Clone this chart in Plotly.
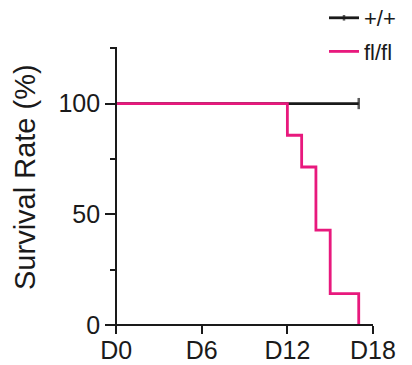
import plotly.graph_objects as go

days_wt = [0, 17]
surv_wt = [100, 100]
days_ko = [0, 12, 13, 14, 15, 17]
surv_ko = [100, 85.7, 71.4, 42.9, 14.3, 0]
x_ticks = [0, 6, 12, 18]
x_labels = ["D0", "D6", "D12", "D18"]
y_ticks = [0, 50, 100]

BLACK = "#1a1a1a"
PINK = "#e8197d"
FONT = "Liberation Sans, Arial, sans-serif"

fig = go.Figure()
fig.add_trace(go.Scatter(
    x=days_wt, y=surv_wt, name="+/+", mode="lines+markers", line_shape="hv",
    line=dict(color=BLACK, width=2.8),
    marker=dict(symbol="line-ns", size=[0, 8], color=BLACK,
                line=dict(color=BLACK, width=2.5)),
    legendgroup="a",
))
fig.add_trace(go.Scatter(
    x=days_ko, y=surv_ko, name="fl/fl", mode="lines", line_shape="hv",
    line=dict(color=PINK, width=2.8),
    legendgroup="b",
))

xr = [-0.5, 18]
yr = [-3, 125.5]
L, R, T, B = 109, 39, 47, 33
W, H = 412, 365
pw, ph = W - L - R, H - T - B


def px_x(p):
    return (p - L) / pw


def px_y(p):
    return (H - B - p) / ph


fig.update_layout(
    width=W, height=H,
    margin=dict(l=L, r=R, t=T, b=B, autoexpand=False),
    paper_bgcolor="white", plot_bgcolor="white",
    font=dict(family=FONT, color=BLACK),
    showlegend=True,
    legend=dict(x=px_x(324), y=px_y(-3), xanchor="left", yanchor="top",
                font=dict(size=22, color=BLACK), tracegroupgap=2,
                itemwidth=30,
                bgcolor="rgba(0,0,0,0)"),
    xaxis=dict(range=xr, tickvals=x_ticks, ticktext=x_labels,
               showgrid=False, zeroline=False, showline=True, linecolor=BLACK,
               linewidth=2, ticks="outside", ticklen=8, tickwidth=2,
               tickcolor=BLACK, tickfont=dict(size=25, color=BLACK),
               ticklabelstandoff=-5,
               automargin=False,
               anchor="free", position=(0 - yr[0]) / (yr[1] - yr[0])),
    yaxis=dict(range=yr, tickvals=y_ticks, showgrid=False, zeroline=False,
               showline=True, linecolor=BLACK, linewidth=2, ticks="outside",
               ticklen=10, tickwidth=2, tickcolor=BLACK,
               tickfont=dict(size=25, color=BLACK),
               minor=dict(dtick=25, tick0=0, ticks="outside", ticklen=5,
                          tickwidth=2, tickcolor=BLACK),
               automargin=False,
               anchor="free", position=(0 - xr[0]) / (xr[1] - xr[0])),
    annotations=[dict(text="Survival Rate (%)", textangle=-90,
                      xref="paper", yref="paper", x=px_x(25), y=px_y(177),
                      xanchor="center", yanchor="middle", showarrow=False,
                      font=dict(size=29, color=BLACK))],
)
fig.write_html("out.html", config={"displayModeBar": False},
               post_script="document.body.style.margin='0px';")
